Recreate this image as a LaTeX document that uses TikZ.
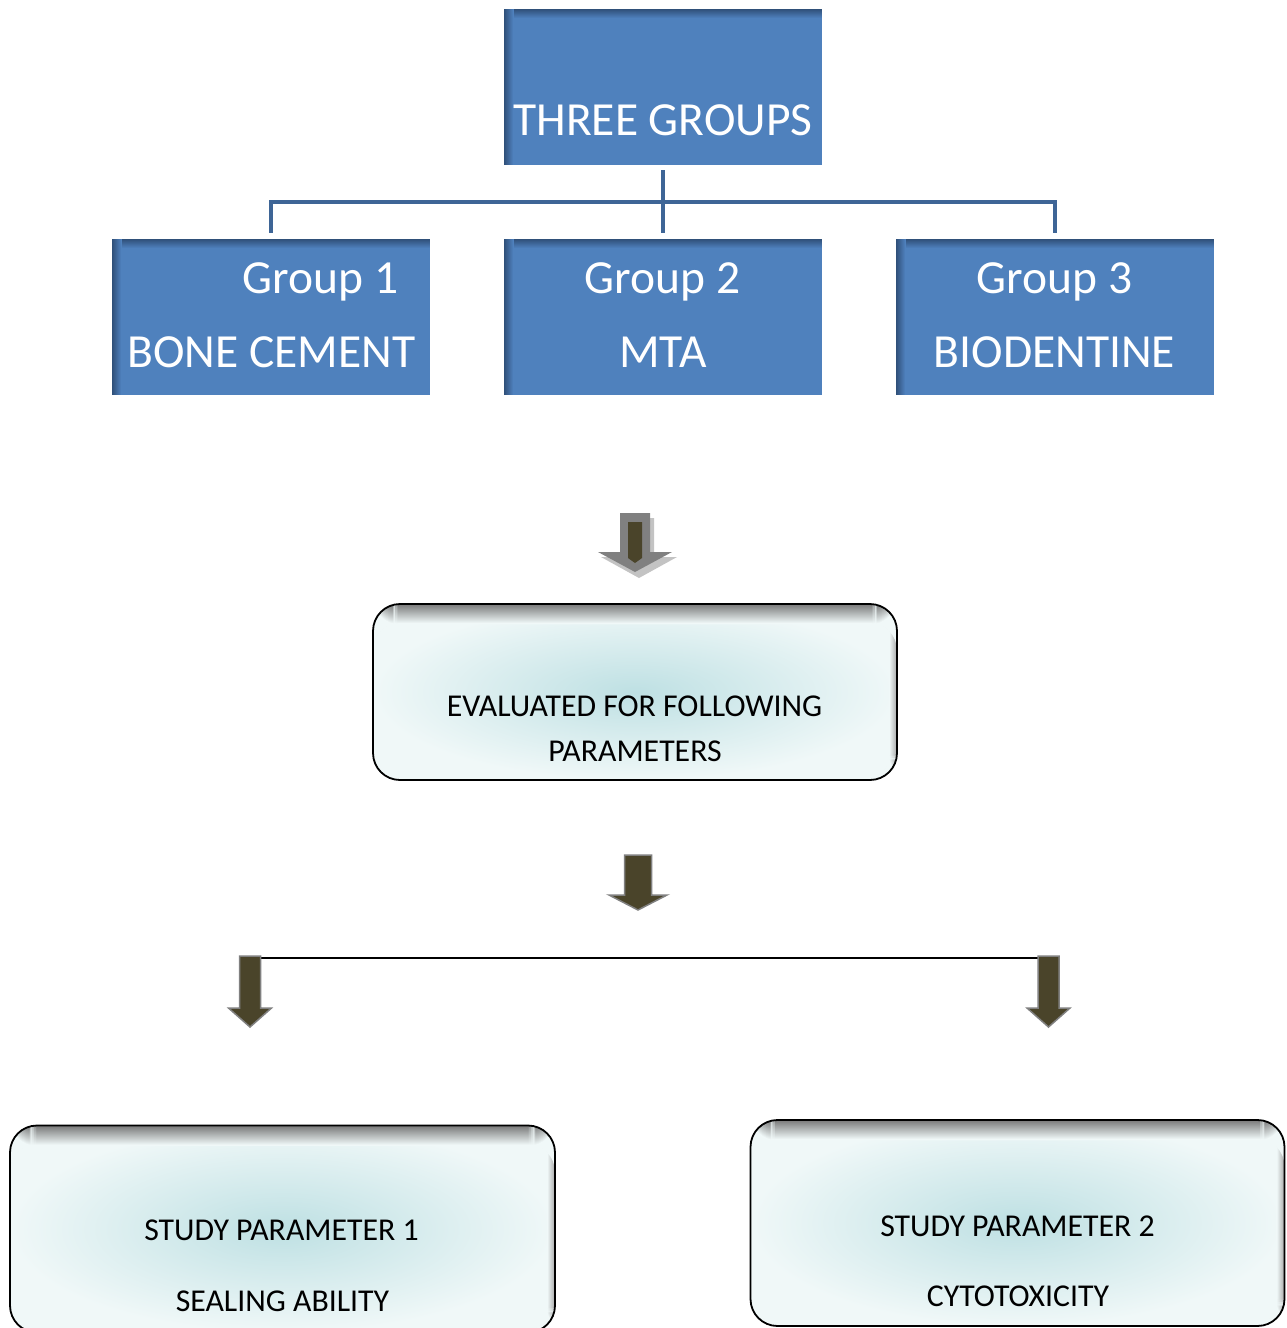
\documentclass[tikz,border=0pt]{standalone}
\usepackage{fontspec}
\setmainfont{Carlito}
\definecolor{boxblue}{RGB}{79,129,189}
\definecolor{shadeblue}{RGB}{44,74,114}
\definecolor{treeblue}{RGB}{62,101,150}
\definecolor{olivedark}{RGB}{74,68,42}
\definecolor{arrowgray}{RGB}{128,128,128}
\definecolor{shadowgray}{RGB}{195,195,195}
\definecolor{tealc}{RGB}{190,224,227}
\definecolor{tealo}{RGB}{240,248,248}
\definecolor{edgegray}{RGB}{115,115,115}
\definecolor{sidegray}{RGB}{165,165,165}
\newcommand{\blockarrow}[7][]{%
  \path[#1] (#2-#3,#5) -- (#2+#3,#5) -- (#2+#3,#6) -- (#2+#4,#6) -- (#2,#7)
     -- (#2-#4,#6) -- (#2-#3,#6) -- cycle;}
% top stripes: #1 dark colour, #2 light colour, #3 number of 1pt stripes
\newcommand{\topstripes}[3]{%
  \foreach \i in {1,...,#3}{%
    \pgfmathtruncatemacro\pc{100*(#3-\i)/#3}%
    \pgfmathsetmacro\ya{-(\i-1)}%
    \pgfmathsetmacro\yb{-\i-0.3}%
    \fill[#1!\pc!#2] ([yshift=\ya pt]path picture bounding box.north west) rectangle ([yshift=\yb pt]path picture bounding box.north east);
  }}
\newcommand{\leftstripes}[3]{%
  \foreach \i in {1,...,#3}{%
    \pgfmathtruncatemacro\pc{100*(#3-\i)/#3}%
    \pgfmathsetmacro\xa{\i-1}%
    \pgfmathsetmacro\xb{\i+0.3}%
    \fill[#1!\pc!#2] ([xshift=\xa pt]path picture bounding box.north west) rectangle ([xshift=\xb pt]path picture bounding box.south west);
  }}
\newcommand{\rightstripes}[3]{%
  \foreach \i in {1,...,#3}{%
    \pgfmathtruncatemacro\pc{100*(#3-\i)/#3}%
    \pgfmathsetmacro\xa{-(\i-1)}%
    \pgfmathsetmacro\xb{-\i-0.3}%
    \fill[#1!\pc!#2] ([xshift=\xa pt]path picture bounding box.north east) rectangle ([xshift=\xb pt]path picture bounding box.south east);
  }}
\tikzset{
  bluebox/.style={rectangle, fill=boxblue, minimum width=318pt, minimum height=156pt, inner sep=0pt,
    path picture={\topstripes{shadeblue}{boxblue}{10}\leftstripes{shadeblue}{boxblue}{10}}},
  roundbox/.style={rectangle, rounded corners=27pt, draw=black, line width=1.8pt,
    inner color=tealc, outer color=tealo, inner sep=0pt,
    path picture={\rightstripes{sidegray}{tealo}{8}\topstripes{edgegray}{tealo}{20}}},
  bigtext/.style={font=\fontsize{47.5}{56}\selectfont, text=white, anchor=base, inner sep=0pt},
  smalltext/.style={font=\fontsize{31.8}{38}\selectfont, text=black, anchor=base, inner sep=0pt},
  tree/.style={draw=treeblue, line width=4pt},
  thinline/.style={draw=black, line width=2pt},
  grayarrow/.style={fill=arrowgray},
  shadowarrow/.style={fill=shadowgray},
  darkarrow/.style={fill=olivedark, draw=arrowgray, line width=1.5pt, line join=miter},
}
\begin{document}
\begin{tikzpicture}[x=1pt, y=-1pt]
\clip (0,0) rectangle (1286,1328);
\fill[white] (0,0) rectangle (1286,1328);

% blue boxes
\node[bluebox] (top) at (663,87) {};
\node[bluebox] (g1) at (271,317) {};
\node[bluebox] (g2) at (663,317) {};
\node[bluebox] (g3) at (1055,317) {};

\node[bigtext] (ttop) at (663,135) {THREE GROUPS};
\node[bigtext] (tg1a) at (320.5,293) {Group 1};
\node[bigtext] (tg1b) at (271.5,367) {BONE CEMENT};
\node[bigtext] (tg2a) at (662.5,293) {Group 2};
\node[bigtext] (tg2b) at (663,367) {MTA};
\node[bigtext] (tg3a) at (1054.5,293) {Group 3};
\node[bigtext] (tg3b) at (1054.5,367) {BIODENTINE};

% tree connectors
\draw[tree] ([yshift=-5pt]top.south) -- ([yshift=6pt]g2.north);
\draw[tree] ([yshift=6pt]g1.north) |- ([yshift=37pt]g2.north) -| ([yshift=6pt]g3.north);

% first arrow
\blockarrow[shadowarrow]{639}{15}{38}{518}{557}{578}
\blockarrow[grayarrow]{635}{15}{37}{513}{552}{572}
\fill[olivedark] (628,522) -- (642,522) -- (642,558) -- (635,563) -- (628,558) -- cycle;

% evaluation box
\node[roundbox, minimum width=524pt, minimum height=176pt] (eval) at (635,692) {};
\node[smalltext] (te1) at (634.5,716) {EVALUATED FOR FOLLOWING};
\node[smalltext] (te2) at (635,761) {PARAMETERS};

% second arrow
\blockarrow[darkarrow]{638}{13.5}{29}{855}{895}{910}

% split line and arrows
\coordinate (lineL) at (250,958);
\coordinate (lineR) at (1048.5,958);
\draw[thinline] (lineL) -- (lineR);
\blockarrow[darkarrow]{250}{10.5}{21.5}{956}{1008}{1027}
\blockarrow[darkarrow]{1048.5}{10.5}{21.5}{956}{1008}{1027}

% study parameter boxes
\node[roundbox, minimum width=545pt, minimum height=207pt] (sp1) at (282.5,1229) {};
\node[smalltext] (ts1a) at (281.5,1240) {STUDY PARAMETER 1};
\node[smalltext] (ts1b) at (282.5,1311) {SEALING ABILITY};

\node[roundbox, minimum width=534pt, minimum height=206pt] (sp2) at (1017.5,1223) {};
\node[smalltext] (ts2a) at (1017.5,1236) {STUDY PARAMETER 2};
\node[smalltext] (ts2b) at (1018,1306) {CYTOTOXICITY};
\end{tikzpicture}
\end{document}
